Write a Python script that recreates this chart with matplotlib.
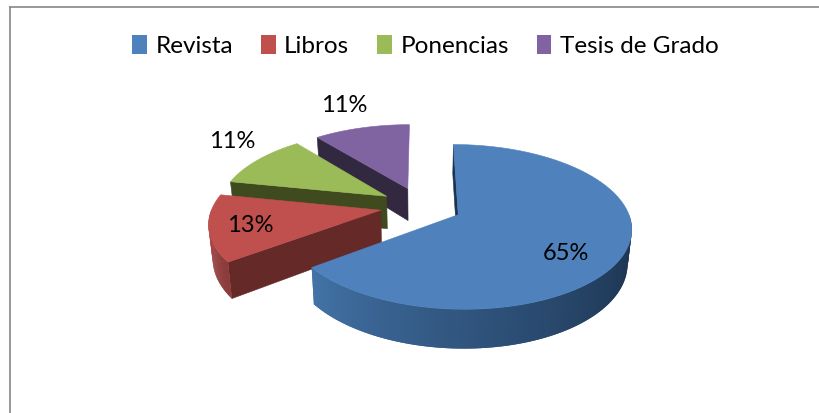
import numpy as np
import matplotlib
matplotlib.use("Agg")
import matplotlib.pyplot as plt
from matplotlib.patches import Patch, Polygon
from matplotlib.colors import to_rgb

categories = ["Revista", "Libros", "Ponencias", "Tesis de Grado"]
values = [64.8, 13.4, 11.0, 10.8]

top_colors = ["#4f81bd", "#c0504d", "#9bbb59", "#8064a2"]
radial_colors = ["#1c3350", "#652a28", "#3f4a1f", "#32283f"]

# geometria del pastel en pixeles
cx, cy = 421, 206
rx, ry = 168, 78
persp = 0.146
depth = 33
explode = 0.244
start = 0.0

plt.rcParams["font.family"] = ["Lato", "DejaVu Sans"]

fig = plt.figure(figsize=(8.2, 4.13), dpi=100)
ax = fig.add_axes([0, 0, 1, 1])
ax.set_xlim(0, 820)
ax.set_ylim(413, 0)
ax.axis("off")


def project(u, v, drop=0.0):
    w = 1 + persp * v
    scale = 1 - 0.02 * (drop > 0)
    return cx + scale * rx * u / w, cy - ry * v / w + drop * depth / w


def arc(a, b, mid, drop=0.0, n=80):
    th = np.radians(np.linspace(a, b, n))
    m = np.radians(mid)
    u = explode * np.sin(m) + np.sin(th)
    v = explode * np.cos(m) + np.cos(th)
    return np.column_stack(project(u, v, drop))


def apex(mid, drop=0.0):
    m = np.radians(mid)
    return np.array(project(explode * np.sin(m), explode * np.cos(m), drop))


def mix(c1, c2, t):
    return tuple((1 - t) * a + t * b for a, b in zip(to_rgb(c1), to_rgb(c2)))


def draw_radial(angle, mid, color, z):
    m = np.radians(mid)
    th = np.radians(angle)
    u = explode * np.sin(m) + np.sin(th)
    v = explode * np.cos(m) + np.cos(th)
    rim_top = np.array(project(u, v))
    rim_bot = np.array(project(u, v, 1.0))
    ax.add_patch(Polygon([apex(mid), rim_top, rim_bot, apex(mid, 1.0)],
                         fc=color, ec=color, lw=0.4, zorder=z))


def draw_rim(a, b, mid, c1, c2, z):
    # cara curva: tiras solapadas para el degradado, asi no se ven las juntas
    top = arc(a, b, mid)
    bot = arc(a, b, mid, 1.0)
    for i in range(len(top) - 1):
        j = min(i + 2, len(top) - 1)
        col = mix(c1, c2, (i / (len(top) - 2)) ** 1.3)
        ax.add_patch(Polygon([top[i], top[j], bot[j], bot[i]],
                             fc=col, ec="none", zorder=z))


# angulos de cada porcion, sentido horario desde arriba
sweeps = np.array(values) / sum(values) * 360
edges = start + np.concatenate([[0], np.cumsum(sweeps)])

# de atras hacia adelante
for i in [3, 2, 1, 0]:
    a, b = edges[i], edges[i + 1]
    mid = (a + b) / 2
    z = 10 - i
    draw_radial(a, mid, radial_colors[i], z)
    if i == 0:
        draw_rim(90, b, mid, "#1b324e", "#4272a6", z)
    elif i == 1:
        draw_rim(a, 270, mid, "#8a3a38", "#b04a47", z)
    top = np.vstack([apex(mid), arc(a, b, mid)])
    ax.add_patch(Polygon(top, fc=top_colors[i], ec=top_colors[i], lw=0.4, zorder=z + 0.5))

# etiquetas
label_pos = [(566, 254), (250, 226), (232, 142), (344, 106)]
for val, (x, y) in zip(values, label_pos):
    ax.text(x, y, f"{val:.0f}%", ha="center", va="center", fontsize=17, color="black", zorder=20)

# marco del grafico (solo arriba e izquierda)
ax.plot([10.5, 820], [6.5, 6.5], color="#868686", lw=1.2, zorder=1)
ax.plot([10.5, 10.5], [6.5, 413], color="#868686", lw=1.2, zorder=1)

handles = [Patch(fc=c, ec="none") for c in top_colors]
ax.legend(handles, categories, ncol=4, loc="center", bbox_to_anchor=(425.5, 46),
          bbox_transform=ax.transData, frameon=False, fontsize=17.5,
          handlelength=0.6, handleheight=0.8, handletextpad=0.35, columnspacing=1.15,
          borderpad=0, labelspacing=0)

fig.savefig("out.png", dpi=100)
